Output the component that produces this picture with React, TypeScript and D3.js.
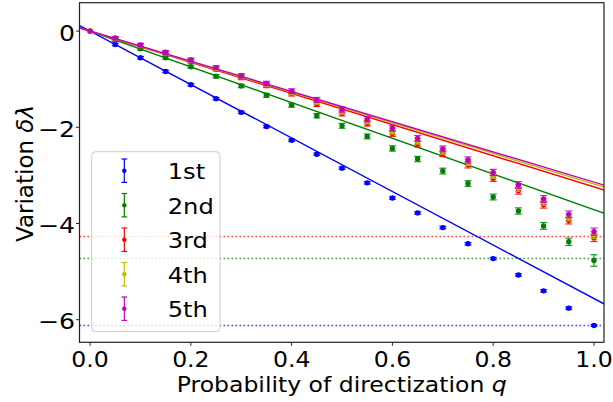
import React from 'react';
import * as d3 from 'd3';

const qValues = [0, 0.05, 0.1, 0.15, 0.2, 0.25, 0.3, 0.35, 0.4, 0.45, 0.5, 0.55, 0.6, 0.65, 0.7, 0.75, 0.8, 0.85, 0.9, 0.95, 1.0];

const seriesNames = ['1st', '2nd', '3rd', '4th', '5th'];
const seriesColors = ['#0000ff', '#008000', '#ff0000', '#bfbf00', '#bf00bf'];

const first = [0, -0.28, -0.555, -0.84, -1.115, -1.405, -1.69, -1.985, -2.27, -2.56, -2.85, -3.155, -3.47, -3.78, -4.085, -4.42, -4.73, -5.07, -5.4, -5.76, -6.12];
const second = [0, -0.18, -0.367, -0.555, -0.74, -0.94, -1.14, -1.335, -1.54, -1.76, -1.97, -2.19, -2.44, -2.66, -2.91, -3.17, -3.45, -3.74, -4.05, -4.38, -4.77];
const third = [0, -0.155, -0.305, -0.46, -0.625, -0.79, -0.965, -1.13, -1.3, -1.52, -1.71, -1.92, -2.13, -2.35, -2.55, -2.78, -3.06, -3.32, -3.61, -3.94, -4.3];
const fourth = [0, -0.15, -0.3, -0.45, -0.61, -0.775, -0.945, -1.11, -1.275, -1.47, -1.67, -1.875, -2.08, -2.29, -2.5, -2.73, -3.0, -3.26, -3.55, -3.875, -4.235];
const fifth = [0, -0.145, -0.29, -0.44, -0.6, -0.76, -0.93, -1.09, -1.25, -1.43, -1.63, -1.83, -2.02, -2.23, -2.45, -2.68, -2.94, -3.2, -3.49, -3.81, -4.17];

const firstErr = [0, 0.025, 0.025, 0.025, 0.025, 0.025, 0.025, 0.025, 0.025, 0.025, 0.025, 0.025, 0.025, 0.025, 0.025, 0.025, 0.025, 0.025, 0.025, 0.025, 0.02];
const secondErr = [0, 0.03, 0.03, 0.03, 0.03, 0.035, 0.035, 0.04, 0.04, 0.045, 0.05, 0.05, 0.055, 0.055, 0.06, 0.06, 0.06, 0.065, 0.07, 0.075, 0.12];
const higherErr = [0, 0.03, 0.035, 0.035, 0.04, 0.04, 0.045, 0.045, 0.05, 0.05, 0.055, 0.055, 0.06, 0.06, 0.06, 0.065, 0.065, 0.07, 0.07, 0.07, 0.075];

// slopes of the linear fits (through the origin)
const fitSlopes = [-5.56, -3.715, -3.24, -3.18, -3.14];
// dotted reference levels for 1st, 2nd, 3rd
const refLevels = [-6.12, -4.73, -4.27];

const xTicks = [0, 0.2, 0.4, 0.6, 0.8, 1.0];
const yTicks = [0, -2, -4, -6];

const seriesValues = [first, second, third, fourth, fifth];
const seriesErrors = [firstErr, secondErr, higherErr, higherErr, higherErr];

const W = 613;
const H = 402;
const left = 79.5;
const right = 604;
const top = 2.7;
const bottom = 342.3;

const font = 'DejaVu Sans, sans-serif';

// the reference figure is a bit wider than tall, so glyphs get stretched sideways
const Txt = ({ x, y, size, sx = 1.144, anchor = 'start', children }: any) => (
  <text transform={`translate(${x},${y}) scale(${sx},1)`} textAnchor={anchor} fontSize={size}>
    {children}
  </text>
);

export default function App() {
  const x = d3.scaleLinear().domain([-0.021, 1.0199]).range([left, right]);
  const y = d3.scaleLinear().domain([-6.47, 0.59]).range([bottom, top]);

  const fitLine = (slope: number) =>
    d3.line<number>()
      .x((q) => x(q))
      .y((q) => y(slope * q))([-0.06, 1.06]) as string;

  return (
    <svg width={W} height={H} style={{ position: 'absolute', left: 0, top: 0 }} fontFamily={font}>
      <defs>
        <clipPath id="plot">
          <rect x={left} y={top} width={right - left} height={bottom - top} />
        </clipPath>
      </defs>
      <rect width={W} height={H} fill="white" />
      <g clipPath="url(#plot)">
        {refLevels.map((v, i) => (
          <line key={'ref' + i} x1={left} x2={right} y1={y(v)} y2={y(v)}
            stroke={seriesColors[i]} strokeWidth={1.5} strokeDasharray="1.5,2.5" opacity={0.75} />
        ))}
        {seriesValues.map((vals, s) => (
          <g key={'s' + s}>
            <path d={fitLine(fitSlopes[s])} fill="none" stroke={seriesColors[s]} strokeWidth={1.4} />
            {vals.map((v, i) => {
              const e = seriesErrors[s][i];
              const cx = x(qValues[i]);
              return (
                <g key={i}>
                  {e > 0 && (
                    <g stroke={seriesColors[s]} strokeWidth={1.2} opacity={0.85}>
                      <line x1={cx} x2={cx} y1={y(v - e)} y2={y(v + e)} />
                      <line x1={cx - 3.5} x2={cx + 3.5} y1={y(v - e)} y2={y(v - e)} />
                      <line x1={cx - 3.5} x2={cx + 3.5} y1={y(v + e)} y2={y(v + e)} />
                    </g>
                  )}
                  <circle cx={cx} cy={y(v)} r={2.7} fill={seriesColors[s]} />
                </g>
              );
            })}
          </g>
        ))}
      </g>
      <rect x={left} y={top} width={right - left} height={bottom - top} fill="none" stroke="#222" strokeWidth={1.2} />
      {xTicks.map((t) => (
        <g key={'x' + t}>
          <line x1={x(t)} x2={x(t)} y1={bottom} y2={bottom + 3.5} stroke="#222" strokeWidth={1} />
          <Txt x={x(t)} y={366.7} size={20.6} anchor="middle">{t.toFixed(1)}</Txt>
        </g>
      ))}
      {yTicks.map((t) => (
        <g key={'y' + t}>
          <line x1={left - 3.5} x2={left} y1={y(t)} y2={y(t)} stroke="#222" strokeWidth={1} />
          <Txt x={75} y={y(t) + 9.5} size={22} anchor="end">{t === 0 ? '0' : '\u2212' + Math.abs(t)}</Txt>
        </g>
      ))}
      <Txt x={(left + right) / 2} y={392} size={22} sx={1.07} anchor="middle">
        Probability of directization <tspan fontStyle="italic">q</tspan>
      </Txt>
      <text transform={`translate(32.5,${(top + bottom) / 2 + 1}) rotate(-90)`} textAnchor="middle" fontSize={23}>
        Variation <tspan fontStyle="italic">δλ</tspan>
      </text>
      <g>
        <rect x={91.7} y={151.7} width={128.3} height={180} rx={4} fill="white" fillOpacity={0.8} stroke="#cccccc" strokeWidth={1} />
        {seriesNames.map((name, i) => {
          const cy = 170.7 + i * 34.5;
          const c = seriesColors[i];
          return (
            <g key={name}>
              <line x1={124.3} x2={124.3} y1={cy - 11.7} y2={cy + 11.7} stroke={c} strokeWidth={1.2} />
              <line x1={121.5} x2={127.1} y1={cy - 11.7} y2={cy - 11.7} stroke={c} strokeWidth={1.2} />
              <line x1={121.5} x2={127.1} y1={cy + 11.7} y2={cy + 11.7} stroke={c} strokeWidth={1.2} />
              <circle cx={124.3} cy={cy} r={2.2} fill={c} />
              <Txt x={167.7} y={cy + 8.6} size={22} sx={1.1}>{name}</Txt>
            </g>
          );
        })}
      </g>
    </svg>
  );
}
